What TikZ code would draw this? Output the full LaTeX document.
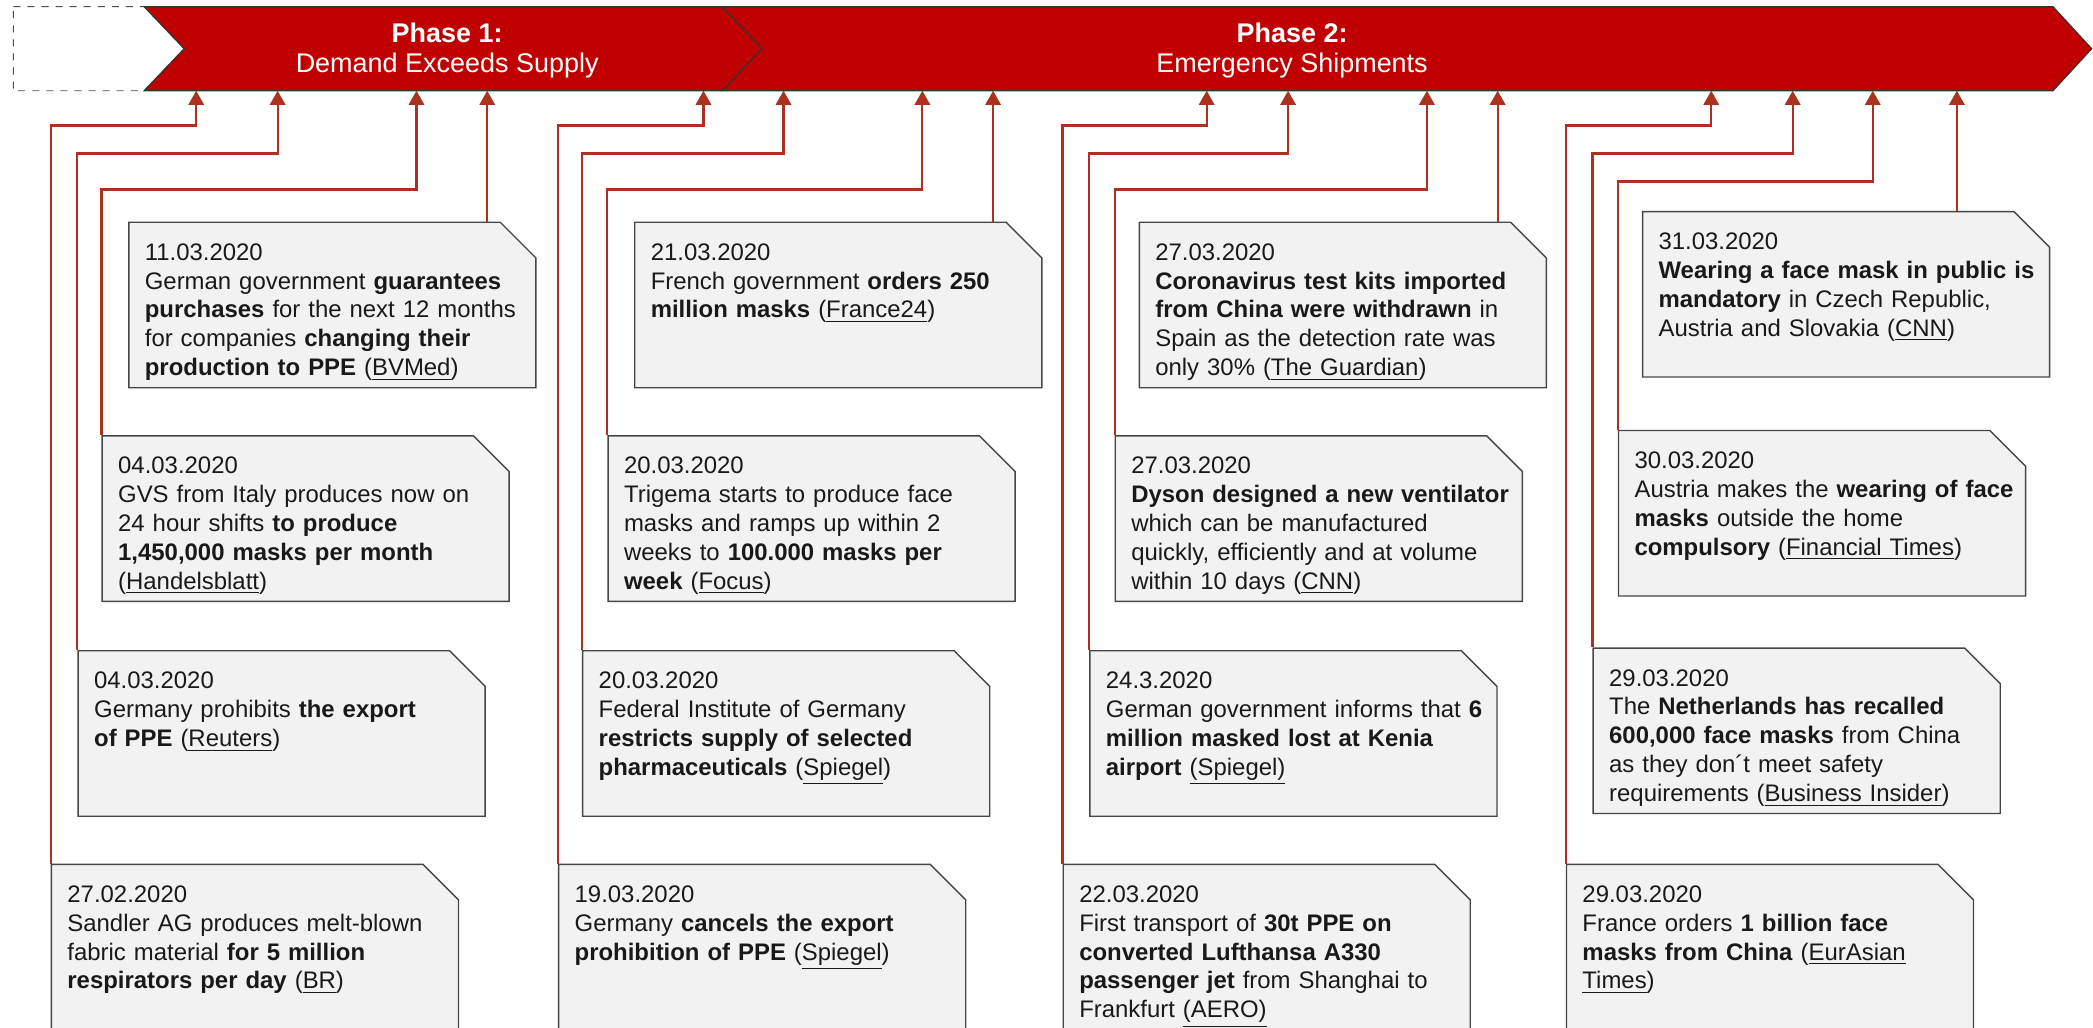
\documentclass[tikz,border=0pt]{standalone}
\usepackage{fontspec}
\setmainfont{Liberation Sans}
\usetikzlibrary{shapes.misc,arrows.meta}

\definecolor{phasered}{RGB}{192,0,0}
\definecolor{linkred}{RGB}{170,50,30}
\definecolor{boxfill}{RGB}{242,242,242}
\definecolor{boxdraw}{RGB}{70,70,70}
\definecolor{boxtext}{RGB}{25,25,25}

% lines of one event, broken only where \\ stands
\newcommand{\evtext}[1]{\begin{tabular}[t]{@{}l@{}}#1\end{tabular}}

\tikzset{
  phase/.style={fill=phasered, draw=black!80, line width=0.5pt},
  phasetext/.style={text=white, align=center, font=\fontsize{11.5}{12.6}\selectfont},
  % the chamfer is added around the text, so the inner xsep is negative
  event/.style={chamfered rectangle, chamfered rectangle corners=north east,
    chamfered rectangle xsep=0.41cm, draw=boxdraw, fill=boxfill, line width=0.6pt,
    anchor=north west, align=left, text width=5.62cm, inner xsep=-0.17cm, inner ysep=0.066cm,
    text height=0.38cm, text depth=1.72cm, text=boxtext,
    font=\fontsize{10.2}{12.3}\selectfont},
  link/.style={draw=linkred, line width=0.9pt, -{Triangle[length=0.21cm,width=0.23cm]}}
}

\begin{document}
\begin{tikzpicture}[x=0.02cm, y=-0.02cm]
\useasboundingbox (0,0) rectangle (1568,770);
\clip (0,0) rectangle (1568,770);

% phase band
\draw[dashed, draw=black!70, fill=white] (10,5) -- (108,5) -- (138,36.5) -- (108,68) -- (10,68) -- cycle;
\draw[phase] (108,5) -- (541,5) -- (571,36.5) -- (541,68) -- (108,68) -- (138,36.5) -- cycle;
\draw[phase] (541,5) -- (1538,5) -- (1567,36.5) -- (1538,68) -- (541,68) -- (571,36.5) -- cycle;
\node[phasetext] (ph1) at (335,38) {\textbf{Phase 1:}\\Demand Exceeds Supply};
\node[phasetext] (ph2) at (968,38) {\textbf{Phase 2:}\\Emergency Shipments};

% arrow tips on the band
\foreach \x [count=\i] in {147,208,312,365,527,587,691,744,904,965,1069,1122,1282,1343,1403,1466}
  \coordinate (a\i) at (\x,68);

% phase 1
\node[event] (e1103) at (96,166) {\evtext{11.03.2020\\
  German government \textbf{guarantees}\\
  \textbf{purchases} for the next 12 months\\
  for companies \textbf{changing their}\\
  \textbf{production to PPE} (\underline{BVMed})}};
\node[event] (e0403a) at (76,326) {\evtext{04.03.2020\\
  GVS from Italy produces now on\\
  24 hour shifts \textbf{to produce}\\
  \textbf{1,450,000 masks per month}\\
  (\underline{Handelsblatt})}};
\node[event] (e0403b) at (58,487) {\evtext{04.03.2020\\
  Germany prohibits \textbf{the export}\\
  \textbf{of PPE} (\underline{Reuters})}};
\node[event] (e2702) at (38,647) {\evtext{27.02.2020\\
  Sandler AG produces melt-blown\\
  fabric material \textbf{for 5 million}\\
  \textbf{respirators per day} (\underline{BR})}};

% phase 2, first half
\node[event] (e2103) at (475,166) {\evtext{21.03.2020\\
  French government \textbf{orders 250}\\
  \textbf{million masks} (\underline{France24})}};
\node[event] (e2003a) at (455,326) {\evtext{20.03.2020\\
  Trigema starts to produce face\\
  masks and ramps up within 2\\
  weeks to \textbf{100.000 masks per}\\
  \textbf{week} (\underline{Focus})}};
\node[event] (e2003b) at (436,487) {\evtext{20.03.2020\\
  Federal Institute of Germany\\
  \textbf{restricts supply of selected}\\
  \textbf{pharmaceuticals} (\underline{Spiegel})}};
\node[event] (e1903) at (418,647) {\evtext{19.03.2020\\
  Germany \textbf{cancels the export}\\
  \textbf{prohibition of PPE} (\underline{Spiegel})}};

% phase 2, second half
\node[event] (e2703a) at (853,166) {\evtext{27.03.2020\\
  \textbf{Coronavirus test kits imported}\\
  \textbf{from China were withdrawn} in\\
  Spain as the detection rate was\\
  only 30\% (\underline{The Guardian})}};
\node[event] (e2703b) at (835,326) {\evtext{27.03.2020\\
  \textbf{Dyson designed a new ventilator}\\
  which can be manufactured\\
  quickly, efficiently and at volume\\
  within 10 days (\underline{CNN})}};
\node[event] (e2403) at (816,487) {\evtext{24.3.2020\\
  German government informs that \textbf{6}\\
  \textbf{million masked lost at Kenia}\\
  \textbf{airport} \underline{(Spiegel)}}};
\node[event] (e2203) at (796,647) {\evtext{22.03.2020\\
  First transport of \textbf{30t PPE on}\\
  \textbf{converted Lufthansa A330}\\
  \textbf{passenger jet} from Shanghai to\\
  Frankfurt \underline{(AERO)}}};

% end of march
\node[event] (e3103) at (1230,158) {\evtext{31.03.2020\\
  \textbf{Wearing a face mask in public is}\\
  \textbf{mandatory} in Czech Republic,\\
  Austria and Slovakia (\underline{CNN})}};
\node[event] (e3003) at (1212,322) {\evtext{30.03.2020\\
  Austria makes the \textbf{wearing of face}\\
  \textbf{masks} outside the home\\
  \textbf{compulsory} (\underline{Financial Times})}};
\node[event] (e2903a) at (1193,485) {\evtext{29.03.2020\\
  The \textbf{Netherlands has recalled}\\
  \textbf{600,000 face masks} from China\\
  as they don´t meet safety\\
  requirements (\underline{Business Insider})}};
\node[event] (e2903b) at (1173,647) {\evtext{29.03.2020\\
  France orders \textbf{1 billion face}\\
  \textbf{masks from China} (\underline{EurAsian}\\
  \underline{Times})}};

% links up to the band
\foreach \ev/\tip/\knee in {e2702/a1/94, e0403b/a2/115, e0403a/a3/142,
    e1903/a5/94, e2003b/a6/115, e2003a/a7/142,
    e2203/a9/94, e2403/a10/115, e2703b/a11/142,
    e2903b/a13/94, e2903a/a14/115, e3003/a15/136}
  \draw[link] (\ev.north west) |- (\tip |- 0,\knee) -- (\tip);
\foreach \ev/\tip in {e1103/a4, e2103/a8, e2703a/a12, e3103/a16}
  \draw[link] (\tip |- \ev.north) -- (\tip);
\end{tikzpicture}
\end{document}
